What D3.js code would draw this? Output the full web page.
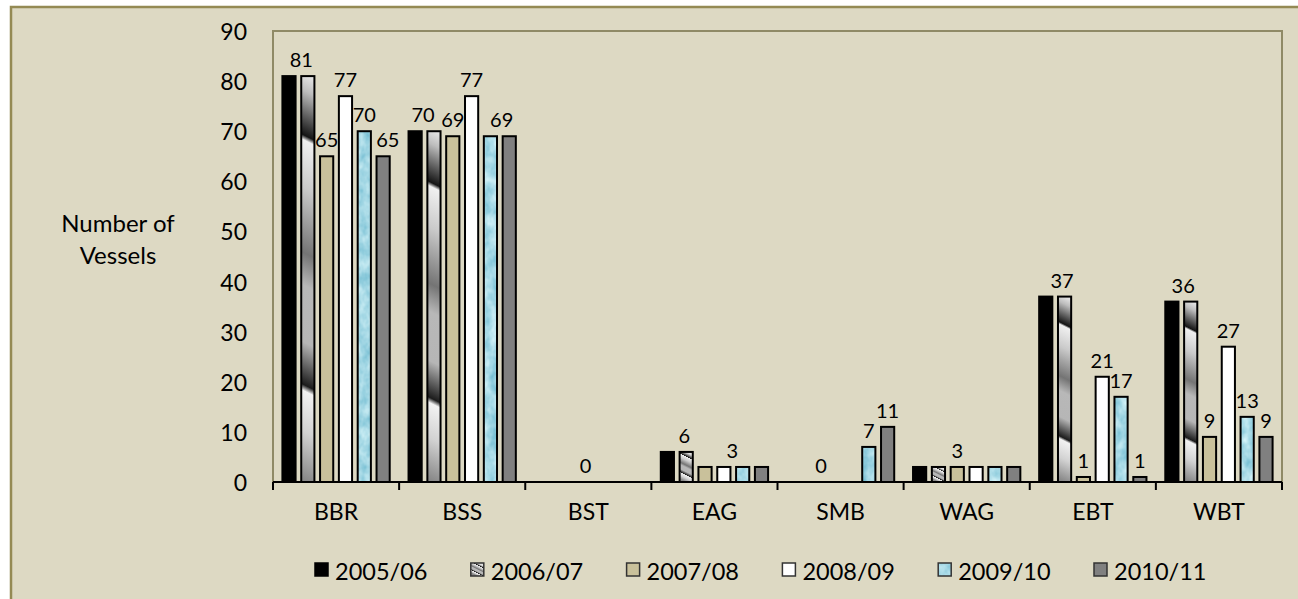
<!DOCTYPE html>
<html>
<head>
<meta charset="utf-8">
<script src="https://cdn.jsdelivr.net/npm/d3@7"></script>
<style>
  html, body { margin: 0; padding: 0; background: #ffffff; }
  svg { display: block; }
  text { font-family: Lato, "Open Sans", "Noto Sans", sans-serif; fill: #000; }
</style>
</head>
<body>
<svg id="chart" width="1298" height="599"></svg>
<script>
// ---- data ----
const sites = ["BBR", "BSS", "BST", "EAG", "SMB", "WAG", "EBT", "WBT"];
const seasons = ["2005/06", "2006/07", "2007/08", "2008/09", "2009/10", "2010/11"];

const v2005 = [81, 70, 0, 6, 0, 3, 37, 36];
const v2006 = [81, 70, 0, 6, 0, 3, 37, 36];
const v2007 = [65, 69, 0, 3, 0, 3, 1, 9];
const v2008 = [77, 77, 0, 3, 0, 3, 21, 27];
const v2009 = [70, 69, 0, 3, 7, 3, 17, 13];
const v2010 = [65, 69, 0, 3, 11, 3, 1, 9];
const seriesValues = [v2005, v2006, v2007, v2008, v2009, v2010];

const yTicks = [0, 10, 20, 30, 40, 50, 60, 70, 80, 90];

// value labels: site, bar slot within the cluster, value shown
const valueLabels = [
  ["BBR", 0.65, 81], ["BBR", 2, 65], ["BBR", 3, 77], ["BBR", 4, 70], ["BBR", 5.25, 65],
  ["BSS", 0.42, 70], ["BSS", 2, 69], ["BSS", 3, 77], ["BSS", 4.6, 69],
  ["BST", 2.35, 0],
  ["EAG", 0.9, 6], ["EAG", 3.45, 3],
  ["SMB", 1.47, 0], ["SMB", 4, 7], ["SMB", 5, 11],
  ["WAG", 2, 3],
  ["EBT", 0.87, 37], ["EBT", 2, 1], ["EBT", 3, 21], ["EBT", 4, 17], ["EBT", 5, 1],
  ["WBT", 0.6, 36], ["WBT", 2, 9], ["WBT", 3, 27], ["WBT", 4, 13], ["WBT", 5, 9]
];

// ---- layout ----
const W = 1298, H = 599;
const plot = { left: 273, top: 31, right: 1282, bottom: 482 };
const fills = ["#000000", "chrome", "#c9c19b", "#ffffff", "water", "#808080"];

const svg = d3.select("#chart");
const defs = svg.append("defs");

// textured light-blue fill
const water = defs.append("filter").attr("id", "water")
  .attr("x", 0).attr("y", 0).attr("width", 1).attr("height", 1)
  .attr("color-interpolation-filters", "sRGB");
water.append("feTurbulence").attr("type", "fractalNoise")
  .attr("baseFrequency", "0.1 0.07").attr("numOctaves", 3).attr("seed", 4).attr("result", "noise");
water.append("feColorMatrix").attr("in", "noise").attr("type", "matrix")
  .attr("values", "0.5 0 0 0 0.40  0.28 0 0 0 0.71  0.2 0 0 0 0.80  0 0 0 0 1")
  .attr("result", "tint");
water.append("feComposite").attr("in", "tint").attr("in2", "SourceAlpha").attr("operator", "in");

// metallic stripes, scaled to each shape's height
const chromeStops = [
  [0, "#e2e2e2"], [0.04, "#bdbdbd"], [0.10, "#606060"], [0.15, "#141414"], [0.162, "#f0f0f0"],
  [0.28, "#cacaca"], [0.44, "#747474"], [0.52, "#b8b8b8"], [0.66, "#b6b6b6"],
  [0.765, "#1c1c1c"], [0.78, "#f2f2f2"], [0.88, "#d2d2d2"], [1, "#888888"]
];
let gradCount = 0;
function chromeGradient(x, y, w, h) {
  const id = "chrome" + (gradCount++);
  const xc = x + w / 2;
  const g = defs.append("linearGradient").attr("id", id)
    .attr("gradientUnits", "userSpaceOnUse")
    .attr("x1", xc).attr("y1", y)
    .attr("x2", xc - 0.4 * h).attr("y2", y + 0.8 * h);
  chromeStops.forEach(([o, c]) => g.append("stop").attr("offset", o).attr("stop-color", c));
  return "url(#" + id + ")";
}

// outer panel
svg.append("rect").attr("x", 11).attr("y", 7).attr("width", W + 20).attr("height", H + 20)
  .attr("fill", "#ddd9c3").attr("stroke", "#948a54").attr("stroke-width", 2.5);

// plot area frame
svg.append("rect").attr("x", plot.left).attr("y", plot.top)
  .attr("width", plot.right - plot.left).attr("height", plot.bottom - plot.top)
  .attr("fill", "#ddd9c3").attr("stroke", "#8f8a66").attr("stroke-width", 2);

// scales
const x = d3.scaleBand().domain(sites).range([plot.left, plot.right]).paddingInner(0).paddingOuter(0);
const xs = d3.scaleBand().domain(d3.range(seasons.length)).range([0, x.bandwidth()])
  .paddingInner(0.3).paddingOuter(0.5);
const y = d3.scaleLinear().domain([0, 90]).range([plot.bottom, plot.top]);

// y tick labels
svg.append("g").selectAll("text").data(yTicks).join("text")
  .attr("x", 247).attr("y", d => y(d)).attr("text-anchor", "end")
  .attr("dominant-baseline", "central").style("font-size", "23px").text(d => d);

// y title
const yTitle = svg.append("text").attr("x", 118).attr("text-anchor", "middle").style("font-size", "24px");
yTitle.append("tspan").attr("x", 118).attr("y", 222).attr("dominant-baseline", "central").text("Number of");
yTitle.append("tspan").attr("x", 118).attr("y", 254).attr("dominant-baseline", "central").text("Vessels");

// bars
const bars = [];
seriesValues.forEach((vals, si) => {
  vals.forEach((v, ci) => {
    if (v > 0) bars.push({ si, site: sites[ci], v });
  });
});
const barG = svg.append("g");
bars.forEach(b => {
  const bx = x(b.site) + xs(b.si), bw = xs.bandwidth();
  const by = y(b.v), bh = y(0) - y(b.v);
  const kind = fills[b.si];
  const r = barG.append("rect").attr("x", bx).attr("y", by).attr("width", bw).attr("height", bh);
  if (kind === "chrome") r.attr("fill", chromeGradient(bx, by, bw, bh));
  else if (kind === "water") r.attr("fill", "#a8dae6").attr("filter", "url(#water)");
  else r.attr("fill", kind);
  barG.append("rect").attr("x", bx).attr("y", by).attr("width", bw).attr("height", bh)
    .attr("fill", "none").attr("stroke", "#000").attr("stroke-width", 2);
});

// x axis
const xAxis = d3.axisBottom(x).tickSize(0).tickPadding(0).tickFormat(d => d);
const axisG = svg.append("g").attr("transform", `translate(0,${plot.bottom})`).call(xAxis);
axisG.select(".domain").remove();
axisG.selectAll("text").attr("y", 29).attr("dy", 0).attr("dominant-baseline", "central")
  .style("font-size", "23px").style("font-family", "Lato, 'Open Sans', sans-serif").attr("fill", "#000");
svg.append("line").attr("x1", plot.left).attr("x2", plot.right)
  .attr("y1", plot.bottom).attr("y2", plot.bottom).attr("stroke", "#000").attr("stroke-width", 2);
const boundaries = sites.map(s => x(s)).concat([plot.right]);
svg.append("g").selectAll("line").data(boundaries).join("line")
  .attr("x1", d => d).attr("x2", d => d).attr("y1", plot.bottom).attr("y2", plot.bottom + 8)
  .attr("stroke", "#000").attr("stroke-width", 2);

// value labels
svg.append("g").selectAll("text").data(valueLabels).join("text")
  .attr("x", d => x(d[0]) + xs(0) + xs.bandwidth() / 2 + d[1] * xs.step())
  .attr("y", d => y(d[2]) - 9)
  .attr("text-anchor", "middle").style("font-size", "20px").text(d => d[2]);

// legend
const legend = svg.append("g");
seasons.forEach((s, i) => {
  const lx = 315 + i * 155.8, ly = 563;
  const g = legend.append("g");
  const sw = g.append("rect").attr("x", lx).attr("y", ly).attr("width", 13).attr("height", 13);
  const kind = fills[i];
  if (kind === "chrome") sw.attr("fill", chromeGradient(lx, ly, 13, 13));
  else if (kind === "water") sw.attr("fill", "#a8dae6").attr("filter", "url(#water)");
  else sw.attr("fill", kind);
  g.append("rect").attr("x", lx).attr("y", ly).attr("width", 13).attr("height", 13)
    .attr("fill", "none").attr("stroke", i === 0 ? "#000" : "#333").attr("stroke-width", 1.5);
  g.append("text").attr("x", lx + 20).attr("y", 571).attr("dominant-baseline", "central")
    .style("font-size", "23.5px").text(s);
});
</script>
</body>
</html>
